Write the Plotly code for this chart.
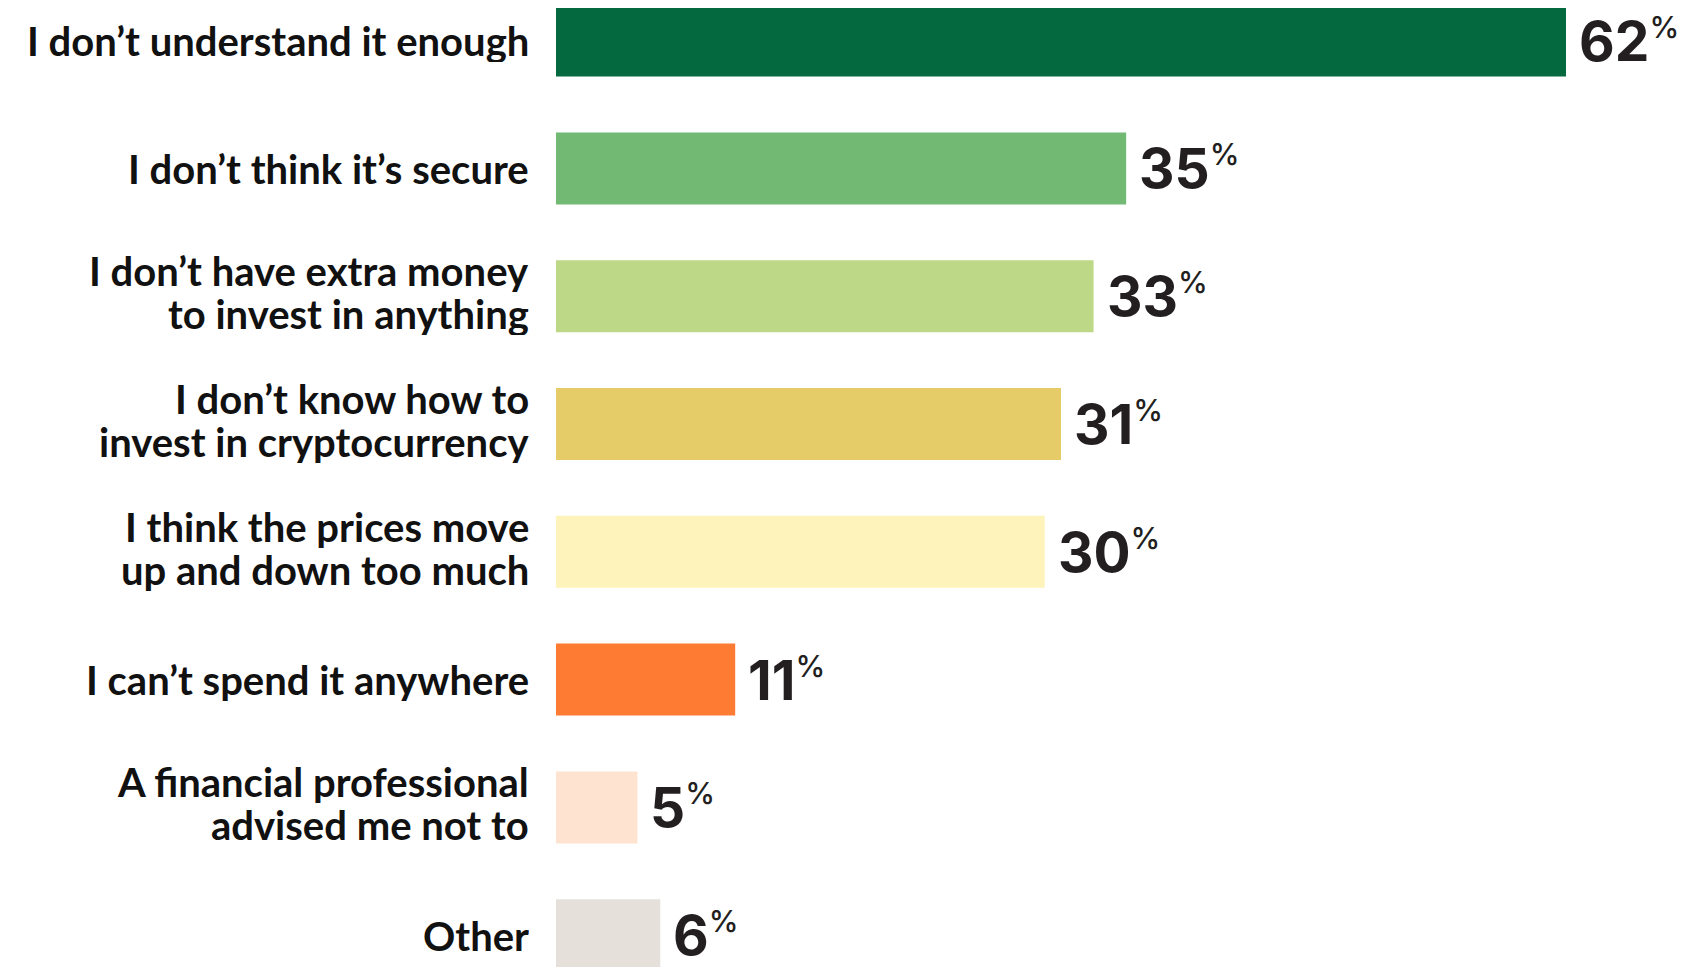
import plotly.graph_objects as go

categories = [
    ["I don’t understand it enough"],
    ["I don’t think it’s secure"],
    ["I don’t have extra money", "to invest in anything"],
    ["I don’t know how to", "invest in cryptocurrency"],
    ["I think the prices move", "up and down too much"],
    ["I can’t spend it anywhere"],
    ["A financial professional", "advised me not to"],
    ["Other"],
]
values = [62, 35, 33, 31, 30, 11, 5, 6.4]
value_labels = ["62", "35", "33", "31", "30", "11", "5", "6"]
colors = ["#04693E", "#72BA74", "#BDD886", "#E5CC68", "#FEF3BA", "#FE7B34", "#FEE3D1", "#E5E0DA"]

LABEL_FONT = "Lato"
VALUE_FONT = "Inter"
pos = list(range(len(values)))

fig = go.Figure()
fig.add_trace(go.Bar(
    x=values, y=pos, orientation="h",
    marker=dict(color=colors, line=dict(width=0)),
    width=0.5634, hoverinfo="skip",
))

ann = []
LINE_GAP = 43
for i, lines in enumerate(categories):
    n = len(lines)
    for k, line in enumerate(lines):
        off = ((n - 1) / 2 - k) * LINE_GAP + (4 if n > 1 else 0)
        ann.append(dict(
            x=0, xref="paper", y=i, yref="y", xanchor="right", yanchor="middle",
            xshift=-25, yshift=off, text=line, showarrow=False, align="right",
            height=LINE_GAP, valign="middle",
            font=dict(family=LABEL_FONT, size=40, color="#111111", weight="bold"),
        ))
    ann.append(dict(
        x=values[i], xref="x", y=i, yref="y", xanchor="left", yanchor="middle",
        xshift=11, yshift=0,
        text=value_labels[i] + "<sup><span style='font-size:30px;font-weight:500'>%</span></sup>",
        showarrow=False,
        font=dict(family=VALUE_FONT, size=55, color="#231F20", weight="bold"),
    ))

fig.update_layout(
    width=1680, height=959,
    margin=dict(l=548, r=0, t=0, b=0),
    paper_bgcolor="white", plot_bgcolor="white",
    showlegend=False,
    xaxis=dict(range=[0, 69.49], visible=False, fixedrange=True),
    yaxis=dict(range=[7.249, -0.2551], visible=False, fixedrange=True),
    annotations=ann,
)
fig.write_html("out.html")
